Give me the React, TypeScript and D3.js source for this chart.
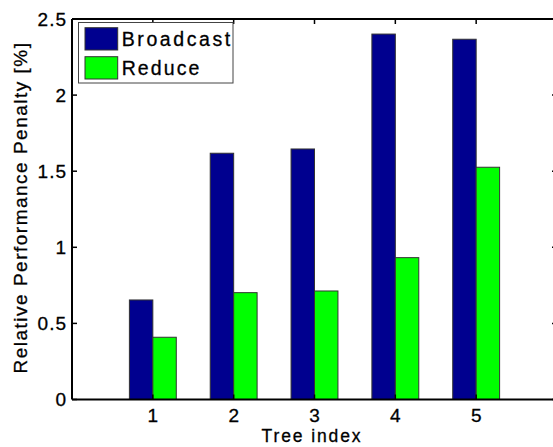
import React from "react";
import * as d3 from "d3";

const categories = [1, 2, 3, 4, 5];
const broadcast = [0.654, 1.618, 1.646, 2.401, 2.367];
const reduce = [0.409, 0.702, 0.713, 0.932, 1.526];
const yTicks = [0, 0.5, 1, 1.5, 2, 2.5];
const yTickLabels = ["0", "0.5", "1", "1.5", "2", "2.5"];
const seriesNames = ["Broadcast", "Reduce"];
const seriesColors = ["#00008f", "#00ff00"];

const W = 553;
const H = 447;
const FONT = "'Liberation Sans', Arial, Helvetica, sans-serif";

export default function App() {
  const x = d3.scaleLinear().domain([0, 6]).range([72, 557]);
  const y = d3.scaleLinear().domain([0, 2.5]).range([399.5, 19]);
  const bw = x(0.29) - x(0);
  const tick = 5;
  const series = [broadcast, reduce];

  return (
    <svg
      width={W}
      height={H}
      style={{ position: "fixed", left: 0, top: 0, background: "#fff" }}
      fontFamily={FONT}
    >
      <rect x={0} y={0} width={W} height={H} fill="#fff" />
      {series.map((vals, si) =>
        vals.map((v, i) => (
          <rect
            key={`${si}-${i}`}
            x={x(categories[i]) + (si === 0 ? -bw : 0)}
            y={y(v)}
            width={bw}
            height={y(0) - y(v)}
            fill={seriesColors[si]}
            stroke="#333"
            strokeWidth={1}
          />
        ))
      )}
      <line x1={x(0)} x2={x(6)} y1={y(0)} y2={y(0)} stroke="#000" strokeWidth={2} />
      <line x1={x(0)} x2={x(6)} y1={y(2.5)} y2={y(2.5)} stroke="#000" strokeWidth={2} />
      <line x1={x(0)} x2={x(0)} y1={y(0)} y2={y(2.5)} stroke="#000" strokeWidth={2} />
      <line x1={x(6)} x2={x(6)} y1={y(0)} y2={y(2.5)} stroke="#000" strokeWidth={2} />
      {yTicks.map((t, i) => (
        <g key={`yt${i}`}>
          <line x1={x(0)} x2={x(0) + tick} y1={y(t)} y2={y(t)} stroke="#000" strokeWidth={1.5} />
          <line x1={x(6)} x2={x(6) - tick} y1={y(t)} y2={y(t)} stroke="#000" strokeWidth={1.5} />
          <text
            x={x(0) - 5}
            y={y(t)}
            dy="0.36em"
            textAnchor="end"
            fontSize={19}
            letterSpacing={1}
            stroke="#000"
            strokeWidth={0.3}
          >
            {yTickLabels[i]}
          </text>
        </g>
      ))}
      {categories.map((c) => (
        <g key={`xt${c}`}>
          <line x1={x(c)} x2={x(c)} y1={y(0)} y2={y(0) - tick} stroke="#000" strokeWidth={1.5} />
          <line x1={x(c)} x2={x(c)} y1={y(2.5)} y2={y(2.5) + tick} stroke="#000" strokeWidth={1.5} />
          <text x={x(c)} y={421.5} textAnchor="middle" fontSize={19} stroke="#000" strokeWidth={0.3}>
            {String(c)}
          </text>
        </g>
      ))}
      <text x={312} y={442} textAnchor="middle" fontSize={17.5} letterSpacing={1.9} stroke="#000" strokeWidth={0.3}>
        Tree index
      </text>
      <text
        transform={`translate(27,${207.5}) rotate(-90)`}
        textAnchor="middle"
        fontSize={19}
        letterSpacing={1.5}
        stroke="#000"
        strokeWidth={0.3}
      >
        Relative Performance Penalty [%]
      </text>
      <rect x={78.5} y={22.5} width={154.5} height={60.5} fill="#fff" stroke="#444" strokeWidth={1} />
      {seriesNames.map((n, i) => (
        <g key={n}>
          <rect
            x={85}
            y={27.7 + i * 29}
            width={32.7}
            height={22.3}
            fill={seriesColors[i]}
            stroke="#333"
            strokeWidth={1}
          />
          <text
            x={121.7}
            y={46 + i * 29}
            fontSize={19.5}
            letterSpacing={i === 0 ? 2.6 : 2.1}
            stroke="#000"
            strokeWidth={0.3}
          >
            {n}
          </text>
        </g>
      ))}
    </svg>
  );
}
